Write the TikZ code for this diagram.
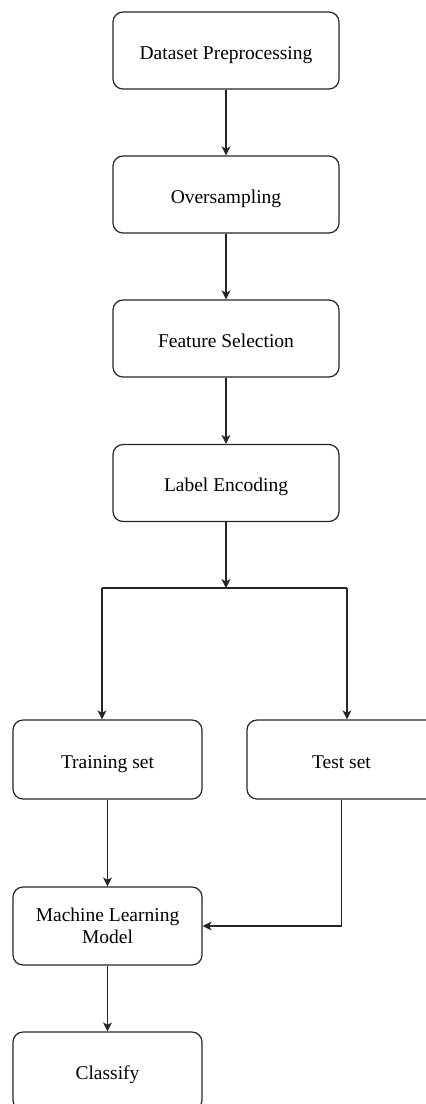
\documentclass[tikz,border=0pt]{standalone}
\usepackage{fontspec}
\setmainfont{Liberation Serif}
\usetikzlibrary{arrows.meta}
\tikzset{
  basebox/.style={draw=black!85, line width=1.2pt, rounded corners=10pt, minimum width=226pt, minimum height=77pt, align=center, inner sep=0pt, font=\fontsize{19.5}{22}\selectfont},
  boxnode/.style={basebox, text height=17.6pt, text depth=0pt},
  smallbox/.style={boxnode, minimum width=189pt, minimum height=79pt},
  twolinebox/.style={basebox, minimum width=189pt, minimum height=78pt},
  conn/.style={draw=black!85, line width=1.2pt},
  arr/.style={conn, -{Stealth[length=9pt,width=9pt,inset=2.5pt]}}
}
\begin{document}
\begin{tikzpicture}[x=1pt,y=-1pt]
\useasboundingbox (0,0) rectangle (426,1104);
\clip (0,0) rectangle (426,1104);
\node[boxnode] (b1) at (226,50.5) {Dataset Preprocessing};
\node[boxnode] (b2) at (226,194.5) {Oversampling};
\node[boxnode] (b3) at (226,338.5) {Feature Selection};
\node[boxnode] (b4) at (226,483) {Label Encoding};
\node[smallbox] (train) at (107.5,759.5) {Training set};
\node[smallbox] (test) at (341.5,759.5) {Test set};
\node[twolinebox] (ml) at (107.5,926) {Machine Learning\\Model};
\node[smallbox, minimum height=78pt] (cls) at (107.5,1071) {Classify};
\coordinate (j) at (226,588);
\coordinate (jl) at (102,588);
\coordinate (jr) at (347,588);
\draw[arr] (b1) -- (b2);
\draw[arr] (b2) -- (b3);
\draw[arr] (b3) -- (b4);
\draw[arr] (b4) -- (j);
\draw[conn] (jl) -- (jr);
\draw[arr] (jl) -- (jl |- train.north);
\draw[arr] (jr) -- (jr |- test.north);
\draw[arr] (train) -- (ml);
\draw[arr] (test.south) |- (ml.east);
\draw[arr] (ml) -- (cls);
\end{tikzpicture}
\end{document}
